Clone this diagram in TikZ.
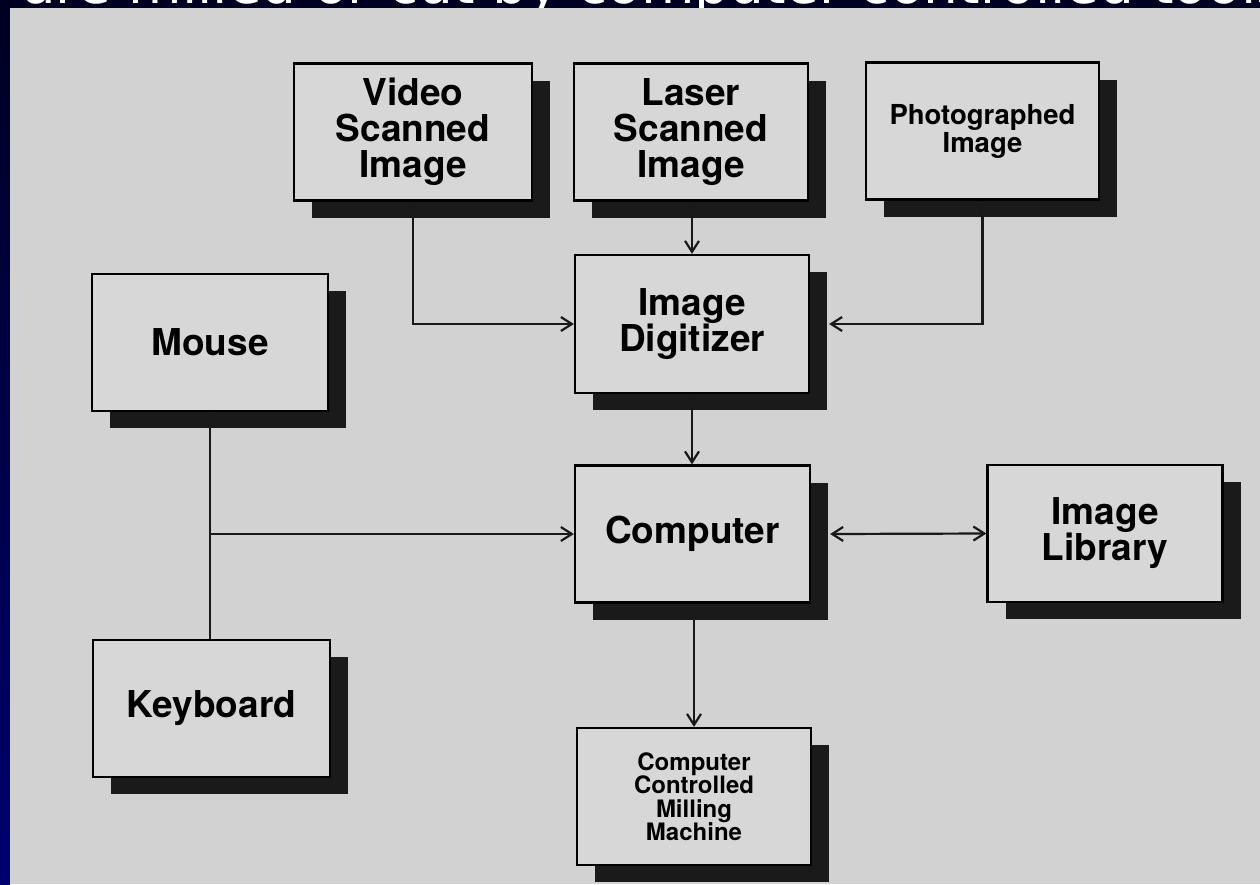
\documentclass[tikz,border=0pt]{standalone}
\usepackage{fontspec}
\setmainfont{TeX Gyre Heros}
\newfontfamily\titlefont{DejaVu Sans}
\usetikzlibrary{arrows.meta,shadows}
\definecolor{navytop}{HTML}{000022}
\definecolor{navybot}{HTML}{00006E}
\definecolor{paper}{HTML}{D2D2D2}
\definecolor{boxgray}{HTML}{D7D7D7}
\definecolor{shadowcol}{HTML}{1A1A1A}
\tikzset{
  blockbox/.style={draw=black, line width=2.2pt, fill=boxgray, align=center,
    inner sep=0pt, minimum height=137pt, minimum width=235pt,
    font=\bfseries\fontsize{37}{36}\selectfont,
    drop shadow={shadow xshift=18pt, shadow yshift=-17pt, opacity=1, fill=shadowcol}},
  smalltext/.style={font=\bfseries\fontsize{27.5}{28}\selectfont},
  tinytext/.style={font=\bfseries\fontsize{24}{23.5}\selectfont},
  conn/.style={line width=2.2pt, draw=black!90},
  arr/.style={conn, -{Straight Barb[length=11pt,width=14pt]}},
  darr/.style={conn, {Straight Barb[length=11pt,width=14pt]}-{Straight Barb[length=11pt,width=14pt]}}
}
\begin{document}
\begin{tikzpicture}[x=1pt,y=1pt]
\useasboundingbox (0,0) rectangle (1260,-884);
\begin{scope}
\clip (0,0) rectangle (1260,-884);
% slide background
\fill[navytop] (0,0) rectangle (1260,-10);
\shade[top color=navytop, bottom color=navybot] (0,0) rectangle (10,-884);
% title text (cut off by the top edge, partly hidden by the scanned page)
\node[anchor=base west, inner sep=0pt, text=white,
      font=\titlefont\fontsize{55}{60}\selectfont] (title) at (22,-3)
      {are milled or cut by computer controlled tools};
% scanned page
\fill[paper] (10,-8) rectangle (1260,-884);

% boxes
\node[blockbox, minimum width=238pt] (video) at (413,-132) {Video\\Scanned\\Image};
\node[blockbox, minimum width=234pt] (laser) at (691,-132) {Laser\\Scanned\\Image};
\node[blockbox, minimum width=233pt, smalltext] (photo) at (982.5,-131) {Photographed\\Image};
\node[blockbox, minimum width=234pt, minimum height=138pt] (dig) at (692,-324) {Image\\Digitizer};
\node[blockbox, minimum width=236pt] (mouse) at (210,-342.5) {Mouse};
\node[blockbox] (comp) at (692.5,-534) {Computer};
\node[blockbox] (lib) at (1105,-533.5) {Image\\Library};
\node[blockbox, minimum width=237pt] (kbd) at (211.5,-708.5) {Keyboard};
\node[blockbox, minimum width=234pt, tinytext] (mill) at (694,-796.5) {Computer\\Controlled\\Milling\\Machine};

% connectors
\coordinate (digR) at ([xshift=19pt]dig.east);
\coordinate (compR) at ([xshift=19pt]comp.east);
\coordinate (junc) at (mouse.south |- comp.west);
\draw[arr] (video.south) |- (dig.west);
\draw[arr] (photo.south) |- (digR);
\draw[arr] (laser.south -| dig.north) -- (dig.north);
\draw[arr] (dig.south) -- (dig.south |- comp.north);
\draw[conn] (mouse.south) -- (mouse.south |- kbd.north);
\draw[arr] (junc) -- (comp.west);
\draw[darr] (compR) -- (lib.west);
\draw[arr] (comp.south -| mill.north) -- (mill.north);
\end{scope}
\end{tikzpicture}
\end{document}
